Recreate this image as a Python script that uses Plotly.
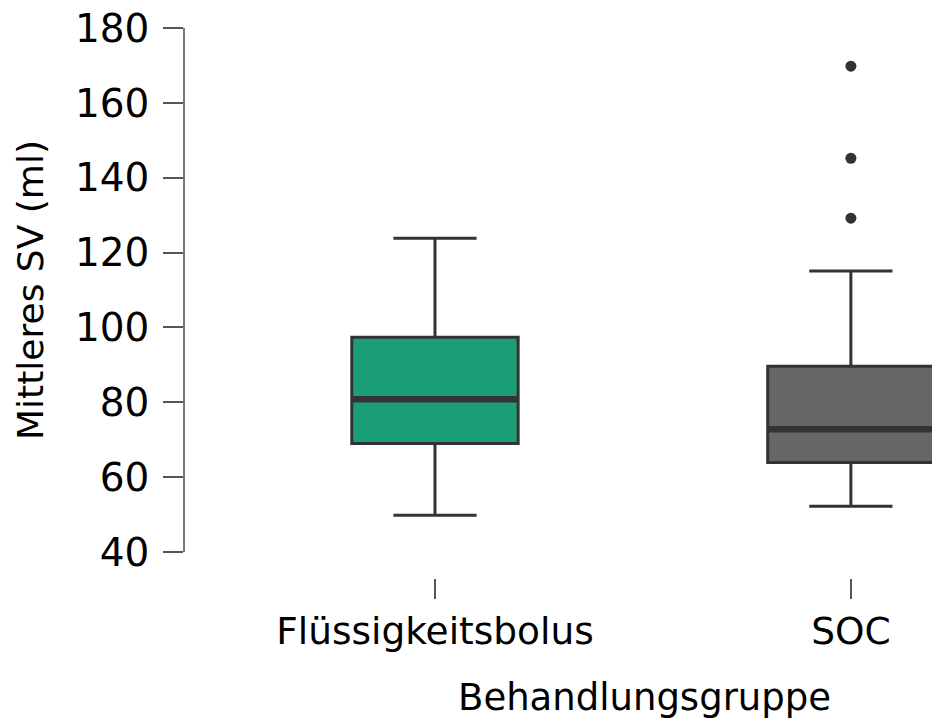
import plotly.graph_objects as go

# Group labels and five-number summaries of mean stroke volume (ml)
categories = ["Flüssigkeitsbolus", "SOC"]
q1_vals = [69.0, 63.9]
median_vals = [80.8, 72.8]
q3_vals = [97.4, 89.6]
lower_whisker = [49.8, 52.2]
upper_whisker = [123.8, 115.1]
soc_outliers = [169.8, 145.2, 129.2]
fill_colors = ["#1b9e77", "#666666"]
y_ticks = [40, 60, 80, 100, 120, 140, 160, 180]

BOX_WIDTH = 0.4
EDGE = "#333333"
FONT = "DejaVu Sans"

fig = go.Figure()
positions = list(range(len(categories)))

for i, name in enumerate(categories):
    fig.add_trace(go.Box(
        x=[positions[i]],
        q1=[q1_vals[i]],
        median=[median_vals[i]],
        q3=[q3_vals[i]],
        lowerfence=[lower_whisker[i]],
        upperfence=[upper_whisker[i]],
        name=name,
        width=BOX_WIDTH,
        whiskerwidth=0.5,
        fillcolor=fill_colors[i],
        line=dict(color=EDGE, width=3),
        boxpoints=False,
        hoverinfo="skip",
        showlegend=False,
    ))
    # heavier median bar drawn on top of the box
    fig.add_shape(
        type="line", xref="x", yref="y",
        x0=positions[i] - BOX_WIDTH / 2, x1=positions[i] + BOX_WIDTH / 2,
        y0=median_vals[i], y1=median_vals[i],
        line=dict(color=EDGE, width=6.5), layer="above",
    )

fig.add_trace(go.Scatter(
    x=[positions[1]] * len(soc_outliers),
    y=soc_outliers,
    mode="markers",
    marker=dict(color=EDGE, size=11),
    showlegend=False,
    hoverinfo="skip",
))

fig.update_layout(
    width=932,
    height=722,
    margin=dict(l=185, r=0, t=28, b=120),
    paper_bgcolor="white",
    plot_bgcolor="white",
    font=dict(family=FONT, color="black"),
    xaxis=dict(
        range=[-0.601, 1.195],
        tickvals=positions,
        ticktext=categories,
        anchor="free",
        position=0.0418,
        showline=False,
        showgrid=False,
        zeroline=False,
        ticks="outside",
        ticklen=20,
        tickwidth=1.5,
        tickcolor="#555555",
        tickfont=dict(family=FONT, size=37.5, color="black"),
    ),
    yaxis=dict(
        domain=[0.0871, 1],
        range=[40, 180],
        tickvals=y_ticks,
        showline=True,
        linecolor="#777777",
        linewidth=1.5,
        showgrid=False,
        zeroline=False,
        ticks="outside",
        ticklen=20,
        tickwidth=2,
        tickcolor="#555555",
        ticklabelstandoff=6,
        tickfont=dict(family=FONT, size=39, color="black"),
        title=dict(text="Mittleres SV (ml)", standoff=20,
                   font=dict(family=FONT, size=36, color="black")),
    ),
    annotations=[dict(
        text="Behandlungsgruppe",
        xref="paper", yref="paper",
        x=(644 - 185) / 747, y=(722 - 120 - 697) / 574,
        xanchor="center", yanchor="middle",
        showarrow=False,
        font=dict(family=FONT, size=37, color="black"),
    )],
)

fig.write_html("out.html")
